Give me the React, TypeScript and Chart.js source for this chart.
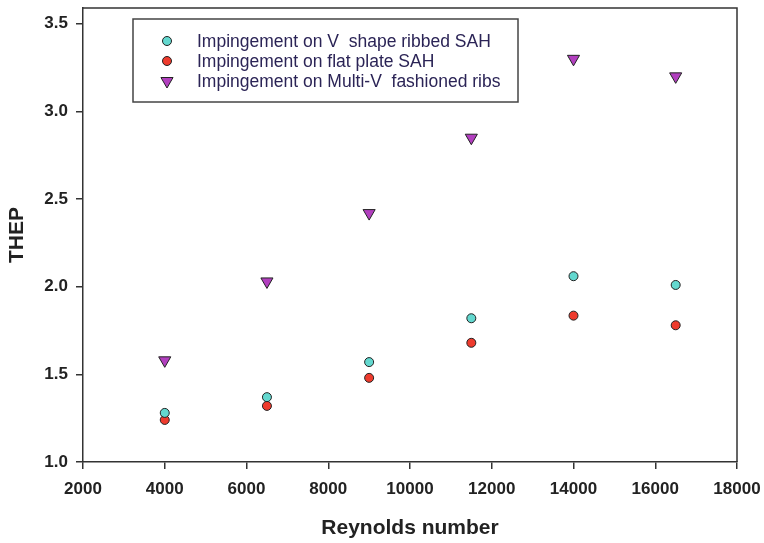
import React, { useEffect, useRef } from "react";
import { Chart, registerables } from "chart.js";

Chart.register(...registerables);

const reynolds = [4000, 6500, 9000, 11500, 14000, 16500];
const vShapeRibbed = [1.28, 1.37, 1.57, 1.82, 2.06, 2.01];
const flatPlate = [1.24, 1.32, 1.48, 1.68, 1.835, 1.78];
const multiV = [1.58, 2.03, 2.42, 2.85, 3.3, 3.2];

const seriesLabels = [
  "Impingement on V  shape ribbed SAH",
  "Impingement on flat plate SAH",
  "Impingement on Multi-V  fashioned ribs",
];
const xTickValues = [2000, 4000, 6000, 8000, 10000, 12000, 14000, 16000, 18000];
const yTickValues = [1.0, 1.5, 2.0, 2.5, 3.0, 3.5];

const FONT = "'Liberation Sans', Arial, sans-serif";
const AXIS = "#333333";
const COLORS = ["#63d8cf", "#ee3b2d", "#b23fbf"];

function drawMarker(ctx: CanvasRenderingContext2D, style: string, r: number, rot: number, x: number, y: number) {
  ctx.beginPath();
  if (style === "circle") {
    ctx.arc(x, y, r, 0, Math.PI * 2);
  } else {
    const rad = (rot * Math.PI) / 180;
    for (let k = 0; k < 3; k++) {
      const a = rad + (k * 2 * Math.PI) / 3;
      const px = x + Math.sin(a) * r;
      const py = y - Math.cos(a) * r;
      if (k === 0) ctx.moveTo(px, py);
      else ctx.lineTo(px, py);
    }
    ctx.closePath();
  }
  ctx.fill();
  ctx.stroke();
}

const framePlugin = {
  id: "frame",
  afterDraw(chart: any) {
    const { ctx, chartArea } = chart;
    ctx.save();
    ctx.strokeStyle = AXIS;
    ctx.lineWidth = 1.5;
    ctx.beginPath();
    ctx.moveTo(chartArea.left, chartArea.top);
    ctx.lineTo(chartArea.right, chartArea.top);
    ctx.lineTo(chartArea.right, chartArea.bottom);
    ctx.stroke();

    // legend box
    const bx = 133, by = 19, bw = 385, bh = 83;
    ctx.fillStyle = "#ffffff";
    ctx.fillRect(bx, by, bw, bh);
    ctx.strokeStyle = "#444444";
    ctx.lineWidth = 1.5;
    ctx.strokeRect(bx, by, bw, bh);
    const styles = ["circle", "circle", "triangle"];
    const radii = [4.5, 4.5, 7];
    const rots = [0, 0, 180];
    ctx.font = `17.5px ${FONT}`;
    ctx.textBaseline = "middle";
    for (let i = 0; i < 3; i++) {
      const y = 41 + i * 20;
      ctx.fillStyle = COLORS[i];
      ctx.strokeStyle = "#222";
      ctx.lineWidth = 1;
      drawMarker(ctx, styles[i], radii[i], rots[i], 167, y);
      ctx.fillStyle = "#2b2456";
      ctx.fillText(seriesLabels[i], 197, y + 1);
    }
    ctx.restore();
  },
};

export default function App() {
  const ref = useRef<HTMLCanvasElement>(null);
  useEffect(() => {
    document.body.style.margin = "0";
    const mk = (vals: number[]) => reynolds.map((x, i) => ({ x, y: vals[i] }));
    const chart = new Chart(ref.current!, {
      type: "scatter",
      data: {
        datasets: [
          {
            label: seriesLabels[0],
            data: mk(vShapeRibbed),
            backgroundColor: COLORS[0],
            borderColor: "#222",
            borderWidth: 1,
            pointRadius: 4.5,
            pointStyle: "circle",
          },
          {
            label: seriesLabels[1],
            data: mk(flatPlate),
            backgroundColor: COLORS[1],
            borderColor: "#222",
            borderWidth: 1,
            pointRadius: 4.5,
            pointStyle: "circle",
          },
          {
            label: seriesLabels[2],
            data: mk(multiV),
            backgroundColor: COLORS[2],
            borderColor: "#222",
            borderWidth: 1,
            pointRadius: 7,
            pointStyle: "triangle",
            rotation: 180,
          },
        ],
      },
      options: {
        animation: false,
        responsive: false,
        layout: { padding: { top: 0, right: 27, left: 0, bottom: 0 } },
        plugins: { legend: { display: false }, tooltip: { enabled: false } },
        scales: {
          x: {
            type: "linear",
            min: 2000,
            max: 18000,
            afterBuildTicks: (s: any) => {
              s.ticks = xTickValues.map((v) => ({ value: v }));
            },
            afterFit: (s: any) => {
              s.height = 81;
              s.paddingLeft = 0;
              s.paddingRight = 0;
            },
            grid: {
              display: true,
              drawOnChartArea: false,
              drawTicks: true,
              tickLength: 7,
              color: AXIS,
              lineWidth: 1.5,
            },
            border: { display: true, color: AXIS, width: 1.5 },
            ticks: {
              color: "#222",
              padding: 10,
              maxRotation: 0,
              font: { family: FONT, size: 17, weight: "bold" },
              callback: (v: any) => String(v),
            },
            title: {
              display: true,
              text: "Reynolds number",
              color: "#222",
              font: { family: FONT, size: 21, weight: "bold" },
              padding: { top: 0, bottom: 2 },
            },
          },
          y: {
            type: "linear",
            min: 1.0,
            max: 3.59,
            afterBuildTicks: (s: any) => {
              s.ticks = yTickValues.map((v) => ({ value: v }));
            },
            afterFit: (s: any) => {
              s.width = 83;
              s.paddingTop = 0;
              s.paddingBottom = 0;
            },
            grid: {
              display: true,
              drawOnChartArea: false,
              drawTicks: true,
              tickLength: 7,
              color: AXIS,
              lineWidth: 1.5,
            },
            border: { display: true, color: AXIS, width: 1.5 },
            ticks: {
              color: "#222",
              padding: 8,
              font: { family: FONT, size: 17, weight: "bold" },
              callback: (v: any) => Number(v).toFixed(1),
            },
            title: {
              display: true,
              text: "THEP",
              color: "#222",
              font: { family: FONT, size: 21, weight: "bold" },
              padding: { top: 5, bottom: 0 },
            },
          },
        },
      },
      plugins: [framePlugin],
    });
    return () => chart.destroy();
  }, []);
  return <canvas ref={ref} width={764} height={543} style={{ display: "block" }} />;
}
